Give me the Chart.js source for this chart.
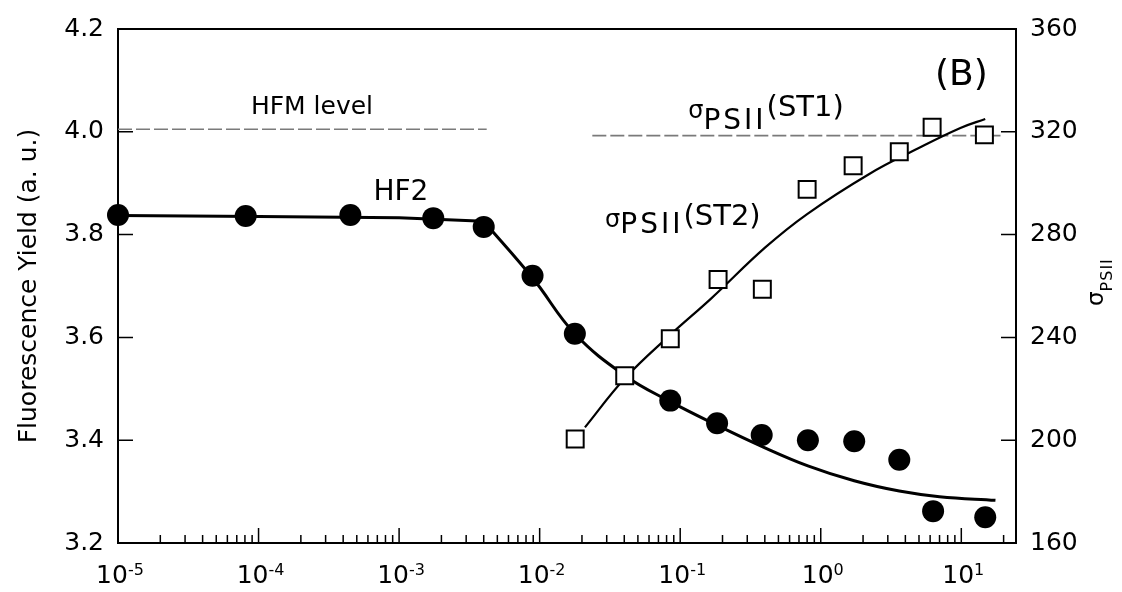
<!DOCTYPE html>
<html>
<head>
<meta charset="utf-8">
<script src="https://cdn.jsdelivr.net/npm/chart.js@4.4.1/dist/chart.umd.min.js"></script>
<style>
  html, body { margin: 0; padding: 0; background: #fff; }
  #wrap { width: 1122px; height: 592px; }
</style>
</head>
<body>
<div id="wrap"><canvas id="chart"></canvas></div>
<script>
// HF2 fluorescence yield (filled circles, left axis)
const hf2X = [1e-5, 8.1e-5, 4.5e-4, 1.75e-3, 4.0e-3, 8.9e-3, 0.0178, 0.085, 0.183, 0.38, 0.81, 1.73, 3.62, 6.3, 14.8];
const hf2Y = [3.838, 3.836, 3.838, 3.832, 3.815, 3.720, 3.607, 3.477, 3.433, 3.410, 3.400, 3.398, 3.362, 3.262, 3.250];

// HF2 fitted curve: plateau, then decay
const hf2PlateauX = [1e-5, 1e-4, 1e-3, 4.0e-3];
const hf2PlateauY = [3.837, 3.835, 3.833, 3.826];
const hf2DecayX = [4.0e-3, 9e-3, 0.0178, 0.0403, 0.085, 0.183, 0.38, 0.81, 1.73, 3.62, 7, 17.5];
const hf2DecayY = [3.826, 3.714, 3.607, 3.526, 3.475, 3.429, 3.388, 3.350, 3.321, 3.301, 3.290, 3.283];

// sigma PSII (ST2) (open squares, right axis)
const st2X = [0.0179, 0.0403, 0.085, 0.186, 0.384, 0.80, 1.70, 3.62, 6.2, 14.6];
const st2Y = [200.5, 225.1, 239.5, 262.5, 258.7, 297.6, 306.8, 312.2, 321.8, 318.8];

// sigma PSII (ST2) fitted curve
const st2FitX = [0.021, 0.0403, 0.085, 0.165, 0.403, 0.8, 2.2, 4.9, 9.85, 14.8];
const st2FitY = [205, 224, 241, 255, 275, 288, 303.5, 313.5, 321.5, 325];

// reference levels
const hfmX = [1e-5, 4.2e-3];
const hfmY = [4.005, 4.005];
const st1X = [0.0237, 19.0];
const st1Y = [318.5, 318.5];

// axes
const xDecades = [-5, -4, -3, -2, -1, 0, 1];
const leftTicks = [3.2, 3.4, 3.6, 3.8, 4.0, 4.2];
const rightTicks = [160, 200, 240, 280, 320, 360];

const FONT = '"DejaVu Sans", sans-serif';
const pts = (xs, ys) => xs.map((x, i) => ({ x: x, y: ys[i] }));

Chart.defaults.font.family = FONT;
Chart.defaults.color = '#000';

function drawPieces(ctx, x0, base, pieces) {
    let cx = x0;
    pieces.forEach(p => {
        ctx.font = p.size + 'px ' + FONT;
        for (const ch of p.text) {
            ctx.fillText(ch, cx, base + (p.dy || 0));
            cx += ctx.measureText(ch).width + (p.gap || 0);
        }
    });
}

// frame and inward tick marks
const axesBox = {
    id: 'axesBox',
    beforeDatasetsDraw(chart) {
        const { ctx, chartArea: a, scales: { x, y, y2 } } = chart;
        ctx.save();
        ctx.strokeStyle = '#000';
        ctx.lineWidth = 2;
        ctx.strokeRect(a.left, a.top, a.right - a.left, a.bottom - a.top);
        ctx.lineWidth = 1.5;
        ctx.beginPath();
        xDecades.forEach(e => {
            for (let k = 1; k <= 9; k++) {
                const v = k * Math.pow(10, e);
                if (v > x.max) break;
                const px = x.getPixelForValue(v);
                ctx.moveTo(px, a.bottom);
                ctx.lineTo(px, a.bottom - (k === 1 ? 15 : 8));
            }
        });
        leftTicks.forEach(v => {
            const py = y.getPixelForValue(v);
            ctx.moveTo(a.left, py);
            ctx.lineTo(a.left + 15, py);
        });
        rightTicks.forEach(v => {
            const py = y2.getPixelForValue(v);
            ctx.moveTo(a.right, py);
            ctx.lineTo(a.right - 15, py);
        });
        ctx.stroke();
        ctx.restore();
    }
};

// texts: x tick labels with exponents, axis titles, annotations
const texts = {
    id: 'texts',
    afterDraw(chart) {
        const { ctx, chartArea: a, scales: { x, y, y2 } } = chart;
        ctx.save();
        ctx.fillStyle = '#000';
        ctx.textAlign = 'left';
        ctx.textBaseline = 'alphabetic';

        xDecades.forEach(e => {
            const px = x.getPixelForValue(Math.pow(10, e));
            ctx.font = '25px ' + FONT;
            const w1 = ctx.measureText('10').width;
            ctx.font = '16px ' + FONT;
            const w2 = ctx.measureText(String(e)).width;
            const x0 = px - (w1 + w2) / 2 + 2;
            ctx.font = '25px ' + FONT;
            ctx.fillText('10', x0, a.bottom + 40);
            ctx.font = '16px ' + FONT;
            ctx.fillText(String(e), x0 + w1, a.bottom + 32);
        });

        // left axis title
        ctx.save();
        ctx.translate(29, (a.top + a.bottom) / 2);
        ctx.rotate(-Math.PI / 2);
        ctx.textAlign = 'center';
        ctx.textBaseline = 'middle';
        ctx.font = '25px ' + FONT;
        ctx.fillText('Fluorescence Yield (a. u.)', 0, 0);
        ctx.restore();

        // right axis title
        ctx.save();
        ctx.translate(1103, 306);
        ctx.rotate(-Math.PI / 2);
        drawPieces(ctx, 0, 0, [
            { text: 'σ', size: 23 },
            { text: 'PSII', size: 16, dy: 9, gap: 1 }
        ]);
        ctx.restore();

        ctx.textAlign = 'center';
        ctx.font = '25px ' + FONT;
        ctx.fillText('HFM level', x.getPixelForValue(2.4e-4), y.getPixelForValue(4.034));
        ctx.font = '28px ' + FONT;
        ctx.fillText('HF2', x.getPixelForValue(1.03e-3), y.getPixelForValue(3.867));
        ctx.font = '36px ' + FONT;
        ctx.fillText('(B)', x.getPixelForValue(10), y2.getPixelForValue(338.4));

        ctx.textAlign = 'left';
        [['(ST1)', 0.114, 326.1, 13], ['(ST2)', 0.0292, 283.7, 8]].forEach(([tag, xv, yv, dy]) => {
            drawPieces(ctx, x.getPixelForValue(xv), y2.getPixelForValue(yv), [
                { text: 'σ', size: 24, dy: 2 },
                { text: 'PSII', size: 28, dy: dy, gap: 3 },
                { text: tag, size: 29 }
            ]);
        });
        ctx.restore();
    }
};

new Chart(document.getElementById('chart'), {
    type: 'scatter',
    data: {
        datasets: [
            {
                data: pts(hf2X, hf2Y),
                pointStyle: 'circle',
                pointRadius: 11,
                backgroundColor: '#000',
                borderColor: '#000',
                borderWidth: 0,
                clip: false
            },
            {
                data: pts(st2X, st2Y),
                yAxisID: 'y2',
                pointStyle: 'rect',
                pointRadius: 12,
                backgroundColor: '#fff',
                borderColor: '#000',
                borderWidth: 2,
                clip: false
            },
            {
                data: pts(hf2PlateauX, hf2PlateauY),
                showLine: true,
                pointRadius: 0,
                borderColor: '#000',
                borderWidth: 3
            },
            {
                data: pts(hf2DecayX, hf2DecayY),
                showLine: true,
                pointRadius: 0,
                borderColor: '#000',
                borderWidth: 3,
                tension: 0.4
            },
            {
                data: pts(st2FitX, st2FitY),
                yAxisID: 'y2',
                showLine: true,
                pointRadius: 0,
                borderColor: '#000',
                borderWidth: 2.2,
                tension: 0.4
            },
            {
                data: pts(hfmX, hfmY),
                showLine: true,
                pointRadius: 0,
                borderColor: '#7a7a7a',
                borderWidth: 1.6,
                borderDash: [14, 4]
            },
            {
                data: pts(st1X, st1Y),
                yAxisID: 'y2',
                showLine: true,
                pointRadius: 0,
                borderColor: '#7a7a7a',
                borderWidth: 1.6,
                borderDash: [14, 4]
            }
        ]
    },
    options: {
        responsive: true,
        maintainAspectRatio: false,
        animation: false,
        events: [],
        layout: { padding: { top: 24, right: 0, bottom: 0, left: 0 } },
        plugins: {
            legend: { display: false },
            tooltip: { enabled: false }
        },
        scales: {
            x: {
                type: 'logarithmic',
                min: 1e-5,
                max: 24.5,
                grid: { display: false, drawTicks: false },
                border: { display: false },
                ticks: { display: false },
                afterFit: s => { s.height = 49; }
            },
            y: {
                position: 'left',
                min: 3.2,
                max: 4.2,
                grid: { display: false, drawTicks: false },
                border: { display: false },
                afterBuildTicks: s => { s.ticks = leftTicks.map(v => ({ value: v })); },
                ticks: {
                    padding: 14,
                    font: { size: 25 },
                    callback: v => v.toFixed(1)
                },
                afterFit: s => { s.width = 118; }
            },
            y2: {
                position: 'right',
                min: 160,
                max: 360,
                grid: { display: false, drawTicks: false },
                border: { display: false },
                afterBuildTicks: s => { s.ticks = rightTicks.map(v => ({ value: v })); },
                ticks: {
                    padding: 14,
                    font: { size: 25 },
                    callback: v => String(v)
                },
                afterFit: s => { s.width = 106; }
            }
        }
    },
    plugins: [axesBox, texts]
});
</script>
</body>
</html>
